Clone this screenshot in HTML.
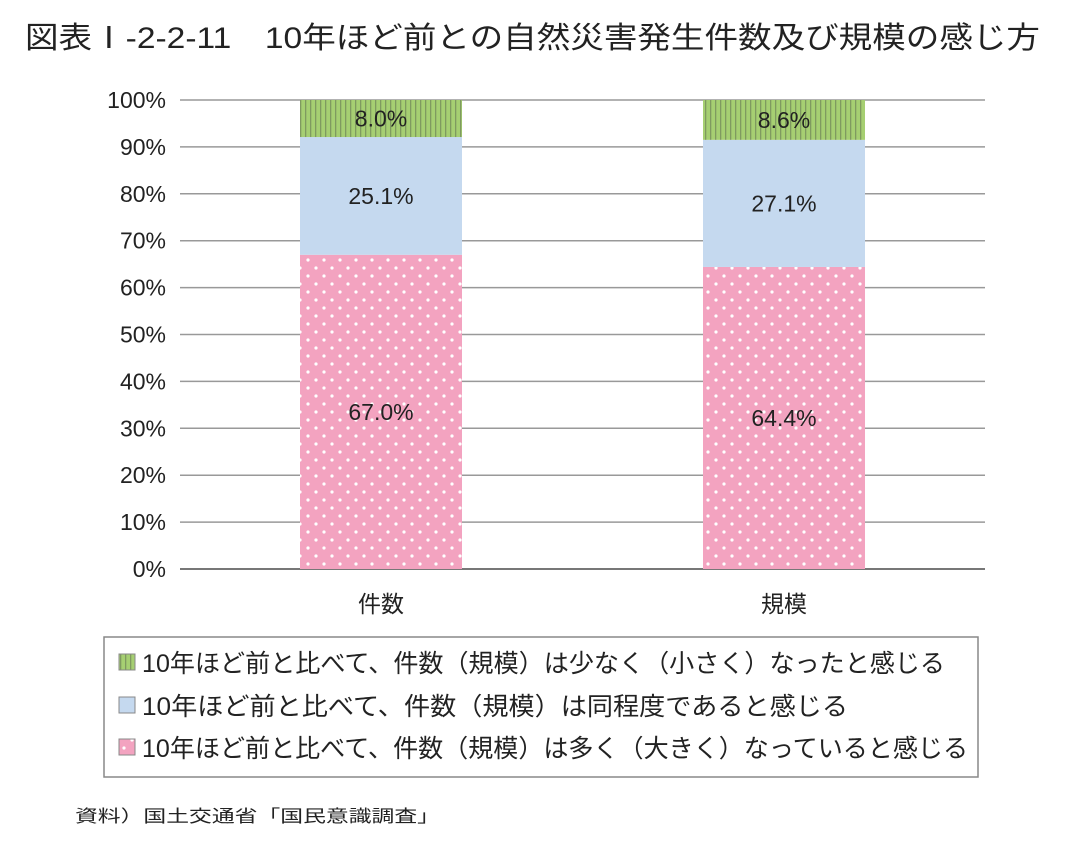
<!DOCTYPE html>
<html><head><meta charset="utf-8"><style>
body{margin:0;background:#fff;font-family:"Liberation Sans","Noto Sans CJK JP",sans-serif;}
#wrap{position:relative;width:1070px;height:846px;overflow:hidden;}
</style></head><body><div id="wrap">
<svg id="svg" width="1070" height="846" xmlns="http://www.w3.org/2000/svg" font-family="Liberation Sans, Noto Sans CJK JP, sans-serif">
<defs>
<pattern id="pg" width="5" height="10" patternUnits="userSpaceOnUse"><rect width="5" height="10" fill="#a6cf72"/><rect x="0" width="1.3" height="10" fill="#7f9a60"/></pattern>
<pattern id="pp" width="16" height="16" patternUnits="userSpaceOnUse"><rect width="16" height="16" fill="#f3a3c0"/><circle cx="4" cy="4" r="1.6" fill="#fff"/><circle cx="12" cy="12" r="1.6" fill="#fff"/></pattern>
</defs>
<text x="25" y="48" font-size="30" fill="#222" textLength="1015" lengthAdjust="spacingAndGlyphs">図表Ⅰ-2-2-11　10年ほど前との自然災害発生件数及び規模の感じ方</text>
<g id="grid"></g><g id="bars"></g>
<rect x="104" y="637" width="874" height="140" fill="#fff" stroke="#888" stroke-width="1.5"/>
<g id="legend"></g>
<text x="75" y="822" font-size="17" fill="#222" textLength="365" lengthAdjust="spacingAndGlyphs">資料）国土交通省「国民意識調査」</text>
</svg></div>
<script>
const categories=["件数","規模"];
const seriesLabels=["10年ほど前と比べて、件数（規模）は多く（大きく）なっていると感じる","10年ほど前と比べて、件数（規模）は同程度であると感じる","10年ほど前と比べて、件数（規模）は少なく（小さく）なったと感じる"];
const seriesMore=[67.0,64.4];
const seriesSame=[25.1,27.1];
const seriesLess=[8.0,8.6];
const yTicks=[0,10,20,30,40,50,60,70,80,90,100];
const NS="http://www.w3.org/2000/svg";
const y0=569,y100=100,left=180,right=985;
const y=v=>y0-(v/100)*(y0-y100);
const barCx=[381,784],barW=162;
const legendLen=[826,706,803];
function mk(t,a,p){const e=document.createElementNS(NS,t);for(const k in a)e.setAttribute(k,a[k]);p.appendChild(e);return e;}
const grid=document.getElementById('grid');
yTicks.forEach(t=>{
 const l=mk('line',{x1:left,x2:right,y1:y(t),y2:y(t),stroke:t===0?'#777':'#999','stroke-width':t===0?2:1.5},grid);
 
 
 const tx=mk('text',{x:166,y:y(t)+8,'font-size':23,'text-anchor':'end',fill:'#222'},grid);
 tx.textContent=t+'%';
 
 
});
const bars=document.getElementById('bars');
const fills=['url(#pp)','#c5d9ef','url(#pg)'];
const series=[seriesMore,seriesSame,seriesLess];
const names=['more','same','less'];
categories.forEach((c,i)=>{
 let acc=0;
 series.forEach((s,j)=>{
  const v=s[i];const a=acc,b=Math.min(100,acc+v);acc+=v;
  const r=mk('rect',{x:barCx[i]-barW/2,y:y(b),width:barW,height:y(a)-y(b),fill:fills[j]},bars);
  
  
  const t=mk('text',{x:barCx[i],y:(y(a)+y(b))/2+8,'font-size':23,'text-anchor':'middle',fill:'#222'},bars);
  t.textContent=v.toFixed(1)+'%';
  
  
 });
 const ct=mk('text',{x:barCx[i],y:612,'font-size':23,'text-anchor':'middle',fill:'#222'},bars);
 ct.textContent=c;
 
 
});
const lg=document.getElementById('legend');
[[2,663],[1,706],[0,748]].forEach(([j,yy])=>{
 const r=mk('rect',{x:119,y:yy-9,width:16,height:16,fill:fills[j],stroke:'#888','stroke-width':1},lg);
 
 
 const t=mk('text',{x:142,y:yy+9,'font-size':25,fill:'#222',textLength:legendLen[j],lengthAdjust:'spacingAndGlyphs'},lg);
 t.textContent=seriesLabels[j];
 
 
});
</script></body></html>
